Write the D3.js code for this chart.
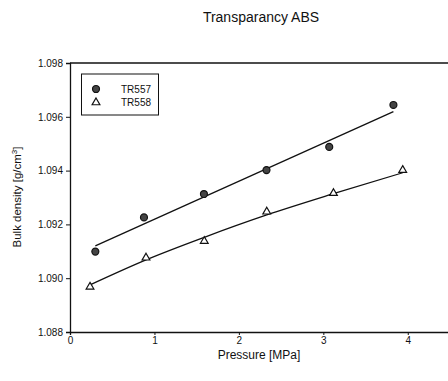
<!DOCTYPE html>
<html><head><meta charset="utf-8">
<script src="https://cdn.jsdelivr.net/npm/d3@7"></script>
<style>body{margin:0;background:#fff}svg{display:block}text{font-family:"Liberation Sans",Arial,sans-serif;fill:#111}</style>
</head><body>
<script>
const title = "Transparancy ABS";
const xTicks = [0, 1, 2, 3, 4];
const yTicks = [1.088, 1.090, 1.092, 1.094, 1.096, 1.098];
const seriesNames = ["TR557", "TR558"];
const tr557x = [0.30, 0.876, 1.586, 2.327, 3.07, 3.83];
const tr557y = [1.09099, 1.09226, 1.09313, 1.09402, 1.09488, 1.09644];
const tr558x = [0.237, 0.90, 1.59, 2.33, 3.12, 3.94];
const tr558y = [1.08968, 1.09076, 1.09138, 1.09247, 1.09316, 1.09402];
// trend lines
const fit557x = [0.30, 3.83];
const fit557y = [1.0912, 1.09619];
const fit558x = [0.237, 0.90, 1.59, 2.33, 3.12, 3.94];
const fit558y = [1.08975, 1.09068, 1.09152, 1.09235, 1.09314, 1.09392];

const W = 448, H = 381;
const svg = d3.select("body").append("svg").attr("width", W).attr("height", H);
const x = d3.scaleLinear().domain([0, 4.5]).range([70, 450]);
const y = d3.scaleLinear().domain([1.088, 1.098]).range([332, 63]);

svg.append("text").attr("x", 261).attr("y", 22).attr("text-anchor", "middle")
  .style("font-size", "14px").text(title);

// frame top line
svg.append("line").attr("x1", x(0)).attr("x2", W).attr("y1", y(1.098)).attr("y2", y(1.098))
  .attr("stroke", "#111").attr("stroke-width", 1.3);

const yAxis = svg.append("g").attr("transform", `translate(${x(0)},0)`)
  .call(d3.axisLeft(y).tickValues(yTicks).tickSize(4).tickPadding(3).tickFormat(d3.format(".3f")));
const xAxis = svg.append("g").attr("transform", `translate(0,${y(1.088)})`)
  .call(d3.axisBottom(x).tickValues(xTicks).tickSize(3).tickPadding(2).tickFormat(d3.format("d")));
[yAxis, xAxis].forEach(a => {
  a.select(".domain").attr("stroke", "#111").attr("stroke-width", 1.3);
  a.selectAll(".tick line").attr("stroke", "#111");
  a.selectAll(".tick text").style("font-size", "10px").style("font-family", '"Liberation Sans",Arial,sans-serif').attr("fill", "#111");
});

svg.append("text").attr("x", 259).attr("y", 359).attr("text-anchor", "middle")
  .style("font-size", "12px").text("Pressure [MPa]");
const yl = svg.append("text").attr("transform", "translate(21,197) rotate(-90)")
  .attr("text-anchor", "middle").style("font-size", "11.5px");
yl.append("tspan").text("Bulk density [g/cm");
yl.append("tspan").attr("dy", -4).style("font-size", "8px").text("3");
yl.append("tspan").attr("dy", 4).text("]");

const line = d3.line().x(d => x(d[0])).y(d => y(d[1]));
svg.append("path").datum(d3.zip(fit557x, fit557y)).attr("d", line)
  .attr("fill", "none").attr("stroke", "#111").attr("stroke-width", 1.3);
svg.append("path").datum(d3.zip(fit558x, fit558y)).attr("d", line.curve(d3.curveMonotoneX))
  .attr("fill", "none").attr("stroke", "#111").attr("stroke-width", 1.3);

const circ = d3.symbol().type(d3.symbolCircle).size(38);
const tri = d3.symbol().type(d3.symbolTriangle).size(26);
svg.append("g").selectAll("path").data(d3.zip(tr557x, tr557y)).join("path")
  .attr("transform", d => `translate(${x(d[0])},${y(d[1])})`).attr("d", circ)
  .attr("fill", "#444").attr("stroke", "#111").attr("stroke-width", 1.2);
svg.append("g").selectAll("path").data(d3.zip(tr558x, tr558y)).join("path")
  .attr("transform", d => `translate(${x(d[0])},${y(d[1])})`).attr("d", tri)
  .attr("fill", "#fff").attr("stroke", "#111").attr("stroke-width", 1.2);

// legend
const lg = svg.append("g");
lg.append("rect").attr("x", 81.5).attr("y", 74).attr("width", 77).attr("height", 41)
  .attr("fill", "#fff").attr("stroke", "#111").attr("stroke-width", 1);
const syms = [circ, tri];
seriesNames.forEach((n, i) => {
  const yy = 89 + i * 13.5;
  lg.append("path").attr("transform", `translate(96,${yy})`).attr("d", syms[i])
    .attr("fill", i === 0 ? "#444" : "#fff").attr("stroke", "#111").attr("stroke-width", 1.2);
  lg.append("text").attr("x", 121).attr("y", yy + 3.5).style("font-size", "10px").text(n);
});
</script>
</body></html>
